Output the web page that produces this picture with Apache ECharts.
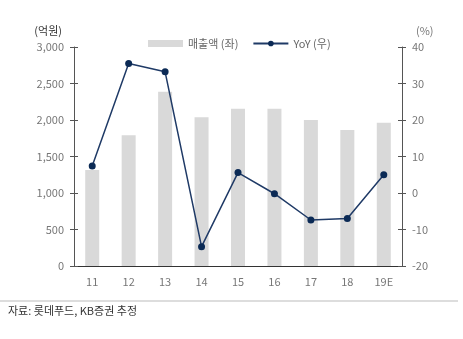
<!DOCTYPE html>
<html><head><meta charset="utf-8">
<script src="https://cdn.jsdelivr.net/npm/echarts@6/dist/echarts.min.js"></script>
<style>html,body{margin:0;padding:0;background:#fff}#c{width:463px;height:339px}</style>
</head><body><div id="c"></div>
<script>
const categories = ['11','12','13','14','15','16','17','18','19E'];
const sales = [1315, 1790, 2388, 2037, 2155, 2155, 2000, 1863, 1963];
const yoy = [7.4, 35.5, 33.2, -14.7, 5.6, -0.2, -7.4, -7.0, 5.0];
const leftTicks = [0, 500, 1000, 1500, 2000, 2500, 3000];
const rightTicks = [-20, -10, 0, 10, 20, 30, 40];

const FONT = '"Noto Sans CJK KR", "Noto Sans", sans-serif';
const chart = echarts.init(document.getElementById('c'));
const baseY = (min, max, interval) => ({
  type: 'value', min: min, max: max, interval: interval,
  splitLine: {show: false}
});
chart.setOption({
  animation: false,
  textStyle: {fontFamily: FONT},
  legend: {
    top: 33, left: 143, itemGap: 14, itemWidth: 35, itemHeight: 7,
    textStyle: {color: '#666', fontSize: 11, fontFamily: FONT},
    data: [
      {name: '매출액 (좌)', icon: 'rect'},
      {name: 'YoY (우)'}
    ]
  },
  grid: {left: 74, right: 61, top: 47, bottom: 73},
  xAxis: {
    type: 'category', data: categories,
    axisLine: {lineStyle: {color: '#333', width: 1}},
    axisTick: {inside: true, length: 4, lineStyle: {color: '#333'}},
    axisLabel: {color: '#777', fontSize: 11, margin: 10, fontFamily: FONT}
  },
  yAxis: [
    Object.assign(baseY(leftTicks[0], leftTicks[leftTicks.length-1], 500), {
      position: 'left', name: '(억원)', nameGap: 11,
      nameTextStyle: {color: '#333', fontSize: 11, align: 'right', padding: [0, 12, 0, 0], fontFamily: FONT},
      axisLine: {show: true, lineStyle: {color: '#555'}},
      axisTick: {show: true, length: 4, lineStyle: {color: '#555'}},
      axisLabel: {color: '#777', fontSize: 11, margin: 10, fontFamily: FONT,
        formatter: v => v.toLocaleString('en-US')}
    }),
    Object.assign(baseY(rightTicks[0], rightTicks[rightTicks.length-1], 10), {
      position: 'right', name: '(%)', nameGap: 11,
      nameTextStyle: {color: '#777', fontSize: 11, align: 'left', padding: [0, 0, 0, 14], fontFamily: FONT},
      axisLine: {show: true, lineStyle: {color: '#555'}},
      axisTick: {show: true, length: 4, lineStyle: {color: '#555'}},
      axisLabel: {color: '#777', fontSize: 11, margin: 10, fontFamily: FONT}
    }),
    Object.assign(baseY(leftTicks[0], leftTicks[leftTicks.length-1], 500), {
      position: 'left', axisLine: {show: false},
      axisTick: {show: true, inside: true, length: 4, lineStyle: {color: '#555'}},
      axisLabel: {show: false}
    }),
    Object.assign(baseY(rightTicks[0], rightTicks[rightTicks.length-1], 10), {
      position: 'right', axisLine: {show: false},
      axisTick: {show: true, inside: true, length: 4, lineStyle: {color: '#555'}},
      axisLabel: {show: false}
    })
  ],
  series: [
    {
      name: '매출액 (좌)', type: 'bar', data: sales, yAxisIndex: 0,
      barWidth: 14, itemStyle: {color: '#d9d9d9'}
    },
    {
      name: 'YoY (우)', type: 'line', data: yoy, yAxisIndex: 1,
      symbol: 'circle', symbolSize: 7,
      lineStyle: {color: '#1f3a66', width: 1.5},
      itemStyle: {color: '#0b2a55'}
    }
  ],
  graphic: [
    {type: 'line', shape: {x1: 0, y1: 301, x2: 458, y2: 301},
     style: {stroke: '#bbb', lineWidth: 1}},
    {type: 'text', left: 8, top: 305,
     style: {text: '자료: 롯데푸드, KB증권 추정', fill: '#333', fontSize: 11, fontFamily: FONT}}
  ]
});
</script></body></html>
